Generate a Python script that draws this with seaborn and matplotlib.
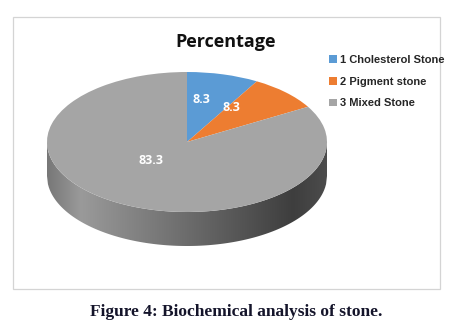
import numpy as np
import matplotlib
matplotlib.use("Agg")
import matplotlib.pyplot as plt
from matplotlib.colors import LinearSegmentedColormap
from matplotlib.patches import Polygon, Rectangle
import seaborn as sns

# ---- data ----
categories = ["Cholesterol Stone", "Pigment stone", "Mixed Stone"]
numbers = ["1", "2", "3"]
values = [8.3, 8.3, 83.3]
value_labels = ["8.3", "8.3", "83.3"]
title = "Percentage"
caption = "Figure 4: Biochemical analysis of stone."

sns.set_theme(style="white")
plt.rcParams["font.family"] = ["Liberation Sans", "DejaVu Sans"]

colors = ["#5B9BD5", "#ED7D31", "#A5A5A5"]
W, H = 454, 326
fig = plt.figure(figsize=(W / 100, H / 100), dpi=100)
fig.patch.set_facecolor("white")

# outer chart frame
frame_ax = fig.add_axes([0, 0, 1, 1])
frame_ax.set_xlim(0, W)
frame_ax.set_ylim(H, 0)
frame_ax.axis("off")
frame_ax.add_patch(Rectangle((13, 17), 427, 272, fill=False, edgecolor="#d4d4d4", lw=0.9))

# pie axes (ellipse: rx 140px, ry 70px, depth 34px)
depth = 34 / 70
left, right, top, bottom = 47, 327, 72, 246
ax = fig.add_axes([left / W, (H - bottom) / H, (right - left) / W, (bottom - top) / H])

# side wall with gradient
xs = np.linspace(-1, 1, 300)
upper = -np.sqrt(np.clip(1 - xs ** 2, 0, None))
lower = upper - depth
poly_pts = np.concatenate([np.column_stack([xs, upper]), np.column_stack([xs[::-1], lower[::-1]])])
wall = Polygon(poly_pts, closed=True, facecolor="none", edgecolor="none")
ax.add_patch(wall)
cmap = LinearSegmentedColormap.from_list(
    "wall", [(0, "#777777"), (0.12, "#9a9a9a"), (0.5, "#6c6c6c"), (0.88, "#3e3e3e"), (1, "#4c4c4c")])
grad = np.linspace(0, 1, 256).reshape(1, -1)
im = ax.imshow(grad, cmap=cmap, extent=(-1, 1, -1 - depth, 0), aspect="auto", zorder=1)
im.set_clip_path(wall)

wedges, _ = ax.pie(values, colors=colors, startangle=90, counterclock=False,
                   radius=1, wedgeprops=dict(linewidth=0, zorder=2))
for w in wedges:
    w.set_zorder(2)

# value labels
label_r = [0.61, 0.59, 0.37]
label_shift = [5, 12, -13.5]
for w, lab, r, sh in zip(wedges, value_labels, label_r, label_shift):
    ang = np.deg2rad((w.theta1 + w.theta2) / 2 + sh)
    ax.text(r * np.cos(ang), r * np.sin(ang), lab, ha="center", va="center",
            color="white", fontsize=9, fontweight="bold", family=["Open Sans", "DejaVu Sans"], zorder=5)

ax.set_aspect("auto")
ax.set_xlim(-1, 1)
ax.set_ylim(-1 - depth, 1)
ax.axis("off")

# title
fig.text(226 / W, 1 - 42 / H, title, ha="center", va="center", fontsize=13,
         fontweight="bold", family=["Open Sans", "DejaVu Sans"], color="#111111")

# legend
handles = [Rectangle((0, 0), 1, 1, facecolor=c, edgecolor="none") for c in colors]
labels = [f"{n} {c}" for n, c in zip(numbers, categories)]
leg = fig.legend(handles, labels, loc="upper left", bbox_to_anchor=(319 / W, 1 - 45 / H),
                 frameon=False, handlelength=0.7, handleheight=0.7, handletextpad=0.3,
                 labelspacing=1.05, prop=dict(size=8, weight="bold", family="Liberation Sans"))

# caption
fig.text(236 / W, 1 - 312 / H, caption, ha="center", va="center", fontsize=12.5,
         fontweight="bold", family=["Liberation Serif", "DejaVu Serif"], color="#14142a")

fig.savefig("out.png", dpi=100, facecolor="white")
